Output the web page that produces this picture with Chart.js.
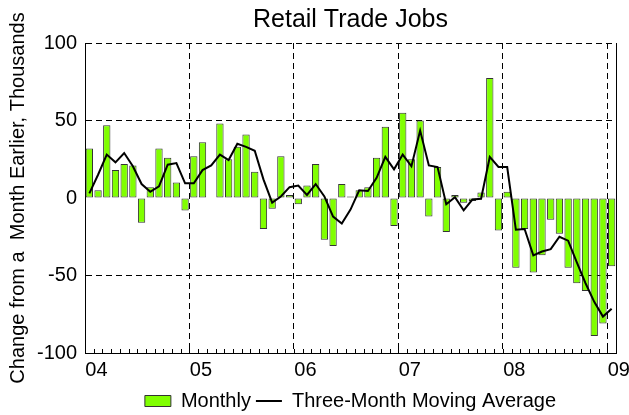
<!DOCTYPE html>
<html>
<head>
<meta charset="utf-8">
<title>Retail Trade Jobs</title>
<script src="https://cdn.jsdelivr.net/npm/chart.js@4.4.1/dist/chart.umd.min.js"></script>
<style>
  html, body { margin: 0; padding: 0; background: #fff; }
</style>
</head>
<body>
<canvas id="theChart" width="629" height="415"></canvas>
<script>
"use strict";

// Months, Jan 2004 - Jan 2009
const months = [
  "Jan 04", "Feb 04", "Mar 04", "Apr 04", "May 04", "Jun 04", "Jul 04", "Aug 04", "Sep 04", "Oct 04", "Nov 04", "Dec 04",
  "Jan 05", "Feb 05", "Mar 05", "Apr 05", "May 05", "Jun 05", "Jul 05", "Aug 05", "Sep 05", "Oct 05", "Nov 05", "Dec 05",
  "Jan 06", "Feb 06", "Mar 06", "Apr 06", "May 06", "Jun 06", "Jul 06", "Aug 06", "Sep 06", "Oct 06", "Nov 06", "Dec 06",
  "Jan 07", "Feb 07", "Mar 07", "Apr 07", "May 07", "Jun 07", "Jul 07", "Aug 07", "Sep 07", "Oct 07", "Nov 07", "Dec 07",
  "Jan 08", "Feb 08", "Mar 08", "Apr 08", "May 08", "Jun 08", "Jul 08", "Aug 08", "Sep 08", "Oct 08", "Nov 08", "Dec 08",
  "Jan 09"
];

// Change from a month earlier, thousands
const monthly = [
  32, 5, 47, 18, 22, 21, -16, 7, 32, 26, 10, -8,
  27, 36, 0, 48, 25, 33, 41, 17, -20, -7, 27, 2,
  -4, 8, 22, -27, -31, 9, 1, 5, 7, 26, 46, -18,
  55, 25, 50, -12, 20, -22, 2, -3, -2, 3.5, 77.5, -21,
  4, -45, -20, -48, -37, -14, -23, -45, -55, -60, -89, -81,
  -44
];

const movingAvg = [
  3, 15, 28, 23, 29, 20.5, 9, 4, 7.5, 21.5, 22.5, 9.5,
  9.5, 18, 21, 28, 24.5, 35, 33, 30.5, 12, -3, 1, 7,
  8, 2, 9, 1, -12, -16.5, -7.5, 5, 4.5, 13, 26.5, 18.5,
  28, 20.5, 43.5, 21, 20, -4, 0.5, -8, -1, -0.5, 26.5, 20,
  20, -20.5, -20, -37, -34.5, -33, -25, -27.5, -41.5, -55, -67, -76.5,
  -71.5
];

const yearLabels = ["04", "05", "06", "07", "08", "09"];

const barGreen = "#80ff00";
const ink = "#000";

Chart.defaults.font.family = "'Liberation Sans', Arial, sans-serif";
Chart.defaults.color = ink;

// small inside ticks along the bottom axis, one per month
const monthTicks = {
  id: "monthTicks",
  afterDatasetsDraw(chart) {
    const x = chart.scales.x;
    const ctx = chart.ctx;
    const half = (x.getPixelForValue(1) - x.getPixelForValue(0)) / 2;
    const bottom = chart.chartArea.bottom;
    ctx.save();
    ctx.strokeStyle = ink;
    ctx.lineWidth = 1;
    ctx.beginPath();
    for (let i = 1; i < months.length; i++) {
      const px = Math.round(x.getPixelForValue(i) - half) + 0.5;
      ctx.moveTo(px, bottom);
      ctx.lineTo(px, bottom - 4);
    }
    ctx.stroke();
    ctx.restore();
  }
};

new Chart(document.getElementById("theChart"), {
  type: "bar",
  data: {
    labels: months,
    datasets: [
      {
        type: "bar",
        label: "Monthly",
        data: monthly,
        backgroundColor: barGreen,
        borderColor: "#333",
        borderWidth: 1,
        borderSkipped: false,
        barPercentage: 0.84,
        categoryPercentage: 1,
        order: 1
      },
      {
        type: "line",
        label: "Three-Month Moving Average",
        data: movingAvg,
        borderColor: ink,
        borderWidth: 2,
        pointRadius: 0,
        tension: 0,
        fill: false,
        order: 0
      }
    ]
  },
  options: {
    responsive: false,
    animation: false,
    layout: { padding: { left: 0, right: 13, top: 0, bottom: -6 } },
    plugins: {
      tooltip: { enabled: false },
      title: {
        display: true,
        text: "Retail Trade Jobs",
        fullSize: false,
        color: ink,
        font: { size: 25, weight: "normal" },
        padding: { top: 5, bottom: 8 }
      },
      legend: {
        position: "bottom",
        fullSize: false,
        labels: {
          color: ink,
          font: { size: 20 },
          usePointStyle: true,
          pointStyleWidth: 26,
          boxHeight: 11,
          padding: 5,
          sort: (a, b) => a.datasetIndex - b.datasetIndex,
          generateLabels(chart) {
            const items = Chart.defaults.plugins.legend.labels.generateLabels(chart);
            items.forEach((it) => {
              if (it.datasetIndex === 0) {
                it.pointStyle = "rect";
                it.fillStyle = barGreen;
                it.strokeStyle = "#333";
                it.lineWidth = 1;
              } else {
                it.pointStyle = "line";
                it.strokeStyle = ink;
                it.lineWidth = 2;
              }
            });
            return items;
          }
        }
      }
    },
    scales: {
      x: {
        type: "category",
        offset: true,
        grid: {
          offset: true,
          drawTicks: false,
          lineWidth: 1,
          color: (c) => (c.index > 0 && c.index % 12 === 0 ? ink : "rgba(0,0,0,0)")
        },
        border: { display: true, color: ink, width: 1, dash: [6, 4] },
        ticks: {
          autoSkip: false,
          maxRotation: 0,
          align: "start",
          labelOffset: -4,
          padding: 5,
          color: ink,
          font: { size: 20 },
          callback: (v, i) => (i % 12 === 0 ? yearLabels[i / 12] : "")
        },
        afterFit: (s) => {
          s.height = 33;
          s.paddingLeft = 0;
          s.paddingRight = 0;
        }
      },
      y: {
        min: -100,
        max: 100,
        ticks: { stepSize: 50, padding: 8, color: ink, font: { size: 20 } },
        grid: {
          drawTicks: false,
          lineWidth: 1,
          color: (c) => (c.tick && c.tick.value === 0 ? "rgba(0,0,0,0)" : ink)
        },
        border: { display: true, color: ink, width: 1, dash: [6, 4] },
        title: {
          display: true,
          text: "Change from a  Month Earlier, Thousands",
          color: ink,
          font: { size: 20 },
          padding: { top: 6, bottom: 0 }
        },
        afterFit: (s) => { s.width = 85; }
      },
      y2: {
        position: "right",
        display: true,
        grid: { display: false, drawTicks: false },
        ticks: { display: false },
        border: { display: true, color: ink, width: 1 },
        afterFit: (s) => { s.width = 0; }
      }
    }
  },
  plugins: [monthTicks]
});
</script>
</body>
</html>
